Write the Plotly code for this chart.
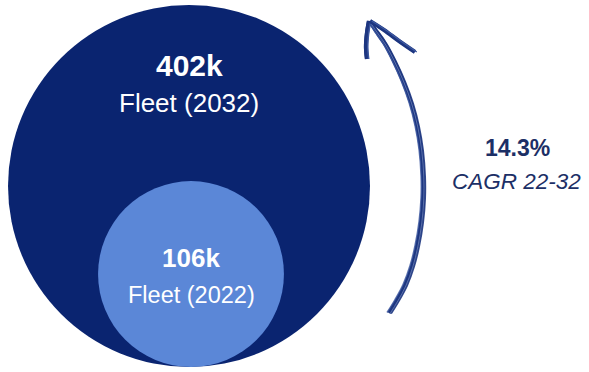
import math
import plotly.graph_objects as go

# Fleet size (thousands of vehicles)
fleet_years = ["2022", "2032"]
fleet_k = [106, 402]
cagr_pct = 14.3
cagr_label = "CAGR 22-32"

# Canvas in pixel units
W, H = 589, 372
navy = "#0a2470"
light = "#5b87d7"
arrow_col = "#1d3680"
arrow_light = "#3d58a0"
text_navy = "#1c2f66"

# Big circle (2032) sets the scale; areas are proportional to fleet size
big_cx, big_cy, big_r = 189, 186, 181
small_r = big_r * math.sqrt(fleet_k[0] / fleet_k[1])
small_cx = big_cx + 2
small_cy = big_cy + big_r - small_r  # bottom-aligned with the big circle

# Curved growth arrow path (pixel space)
arrow_x = [389, 397, 405, 412, 417, 421, 423, 423, 421, 417, 411, 403, 394, 385, 376, 370]
arrow_y = [313, 300, 285, 266, 246, 222, 198, 176, 150, 126, 103, 81, 61, 44, 31, 22]

fig = go.Figure()

fig.add_shape(type="circle", xref="x", yref="y",
              x0=big_cx - big_r, x1=big_cx + big_r,
              y0=big_cy - big_r, y1=big_cy + big_r,
              fillcolor=navy, line=dict(width=0), layer="below")
fig.add_shape(type="circle", xref="x", yref="y",
              x0=small_cx - small_r, x1=small_cx + small_r,
              y0=small_cy - small_r, y1=small_cy + small_r,
              fillcolor=light, line=dict(width=0), layer="below")

# Hand-drawn look: a main stroke plus slightly offset strands
strands = [(0, 0, 4.0, arrow_col, 1.0), (2.2, 0.6, 1.6, arrow_col, 0.9),
           (-2.0, -0.5, 1.4, arrow_light, 0.8), (0.8, 1.0, 0.8, "#7f93c4", 0.8)]
for dx, dy, w, c, op in strands:
    fig.add_trace(go.Scatter(
        x=[v + dx for v in arrow_x[:-1]] + [arrow_x[-1]],
        y=[v + dy for v in arrow_y[:-1]] + [arrow_y[-1]],
        mode="lines", line=dict(color=c, width=w, shape="spline"),
        opacity=op, hoverinfo="skip", showlegend=False))

tip_x, tip_y = 369, 21
barbs = [
    ([tip_x, 367, 366, 367], [tip_y, 33, 47, 59]),
    ([tip_x + 1, 384, 399, 415], [tip_y, 30, 41, 52]),
]
for bx, by in barbs:
    for dx, w, c in [(0, 4.2, arrow_col), (1.8, 1.4, arrow_light), (-1.5, 1.2, arrow_col)]:
        fig.add_trace(go.Scatter(
            x=[v + dx for v in bx], y=by, mode="lines",
            line=dict(color=c, width=w, shape="spline"),
            hoverinfo="skip", showlegend=False))

font = "Liberation Sans, Arial, sans-serif"
annotations = [
    dict(x=big_cx, y=65, text=f"<b>{fleet_k[1]}k</b>", font=dict(size=30, color="white", family=font)),
    dict(x=big_cx, y=103, text=f"Fleet ({fleet_years[1]})", font=dict(size=26, color="white", family=font)),
    dict(x=small_cx, y=258, text=f"<b>{fleet_k[0]}k</b>", font=dict(size=26, color="white", family=font)),
    dict(x=small_cx, y=295, text=f"Fleet ({fleet_years[0]})", font=dict(size=23.5, color="white", family=font)),
    dict(x=517, y=148, text=f"<b>{cagr_pct}%</b>", font=dict(size=23, color=text_navy, family=font)),
    dict(x=516, y=181, text=f"<i>{cagr_label}</i>", font=dict(size=22.5, color=text_navy, family=font)),
]
for a in annotations:
    a.update(xref="x", yref="y", showarrow=False, xanchor="center", yanchor="middle")

fig.update_layout(
    width=W, height=H, margin=dict(l=0, r=0, t=0, b=0),
    paper_bgcolor="white", plot_bgcolor="white",
    xaxis=dict(range=[0, W], visible=False, fixedrange=True),
    yaxis=dict(range=[H, 0], visible=False, fixedrange=True),
    annotations=annotations, showlegend=False,
)

fig.write_html("out.html")
